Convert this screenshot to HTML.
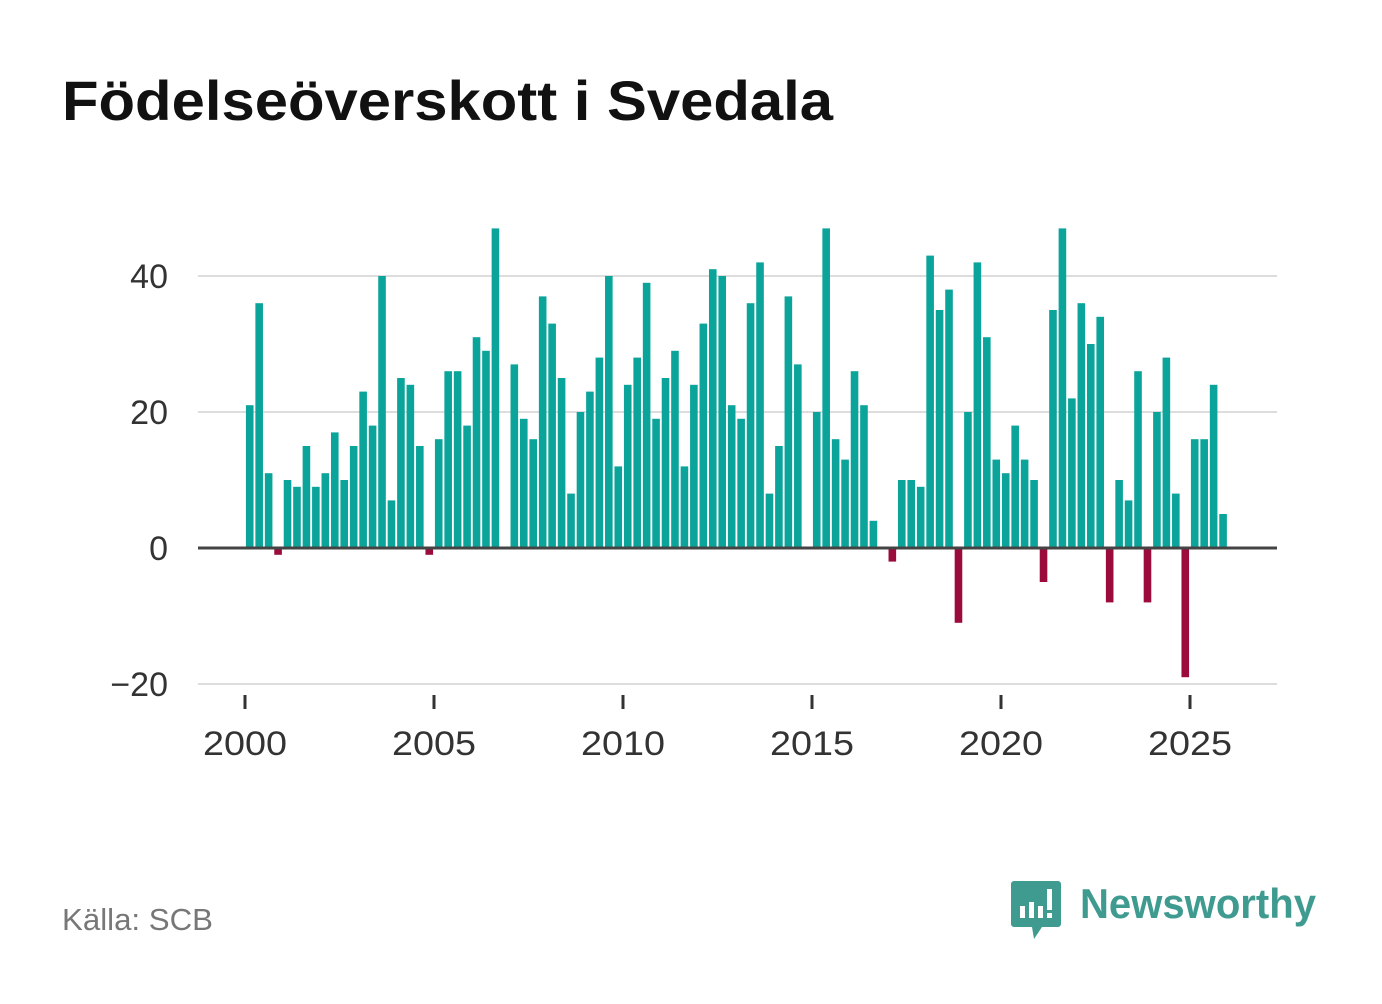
<!DOCTYPE html>
<html><head><meta charset="utf-8"><style>
body{margin:0;background:#fff;width:1382px;height:999px;overflow:hidden;font-family:"Liberation Sans",sans-serif}
</style></head><body>
<svg width="1382" height="999" xmlns="http://www.w3.org/2000/svg">
<text x="62" y="120" font-size="56" font-weight="bold" fill="#111" textLength="771" lengthAdjust="spacingAndGlyphs">Födelseöverskott i Svedala</text>
<g id="grid"></g>
<g id="bars"></g>
<g id="axes"></g>
<text x="62" y="930" font-size="31" fill="#777" textLength="151" lengthAdjust="spacingAndGlyphs">Källa: SCB</text>
<g>
<path d="M1014 881 h44 a3 3 0 0 1 3 3 v40 a3 3 0 0 1 -3 3 h-16 l-8 12 l-2 -12 h-18 a3 3 0 0 1 -3 -3 v-40 a3 3 0 0 1 3 -3z" fill="#3f9b90"/>
<rect x="1020" y="906" width="5" height="12" fill="#fff"/>
<rect x="1029" y="902" width="5" height="16" fill="#fff"/>
<rect x="1038" y="906" width="5" height="12" fill="#fff"/>
<rect x="1047" y="889" width="5" height="21" fill="#fff"/>
<rect x="1047" y="913" width="5" height="5" fill="#fff"/>
<text x="1080" y="918" font-size="42" font-weight="bold" fill="#3f9b90" textLength="236" lengthAdjust="spacingAndGlyphs">Newsworthy</text>
</g>
</svg>
<script>
const years=[2000,2005,2010,2015,2020,2025];
const yTicks=[-20,0,20,40];
const startYear=2000;
const values=[21,36,11,-1, 10,9,15,9, 11,17,10,15, 23,18,40,7, 25,24,15,-1,
16,26,26,18, 31,29,47,0, 27,19,16,37, 33,25,8,20, 23,28,40,12,
24,28,39,19, 25,29,12,24, 33,41,40,21, 19,36,42,8, 15,37,27,0,
20,47,16,13, 26,21,4,0, -2,10,10,9, 43,35,38,-11, 20,42,31,13,
11,18,13,10, -5,35,47,22, 36,30,34,-8, 10,7,26,-8, 20,28,8,-19, 16,16,24,5];
const ns="http://www.w3.org/2000/svg";
const x=t=>245+(t-2000)*37.8;
const y=v=>548-v*6.8;
function mk(tag,attrs,parent){const e=document.createElementNS(ns,tag);for(const k in attrs)e.setAttribute(k,attrs[k]);parent.appendChild(e);return e;}
const grid=document.getElementById('grid'),bars=document.getElementById('bars'),axes=document.getElementById('axes');
yTicks.forEach(v=>{
 if(v!==0){const l=mk('line',{x1:198,x2:1277,y1:y(v),y2:y(v),stroke:'#ddd','stroke-width':2},grid);
 
 }
 const t=mk('text',{x:168,y:y(v)+12,'font-size':34,fill:'#333','text-anchor':'end'},axes);
 t.textContent=v<0?'\u2212'+Math.abs(v):v;
 
 
});
values.forEach((v,i)=>{
 if(v===0)return;
 const cx=x(startYear+i/4+0.125);
 const r=mk('rect',{x:cx-3.8,width:7.6,y:Math.min(y(v),y(0)),height:Math.abs(y(v)-y(0)),fill:v>0?'#0ba49a':'#9b0c3c'},bars);
 
 
});
const z=mk('line',{x1:198,x2:1277,y1:y(0),y2:y(0),stroke:'#444','stroke-width':3},axes);


years.forEach(yr=>{
 const tk=mk('line',{x1:x(yr),x2:x(yr),y1:695,y2:709,stroke:'#333','stroke-width':3},axes);
 
 
 const t=mk('text',{x:x(yr),y:755,'font-size':34,fill:'#333','text-anchor':'middle',textLength:84,lengthAdjust:'spacingAndGlyphs'},axes);
 t.textContent=yr;
 
 
});
</script>
</body></html>
